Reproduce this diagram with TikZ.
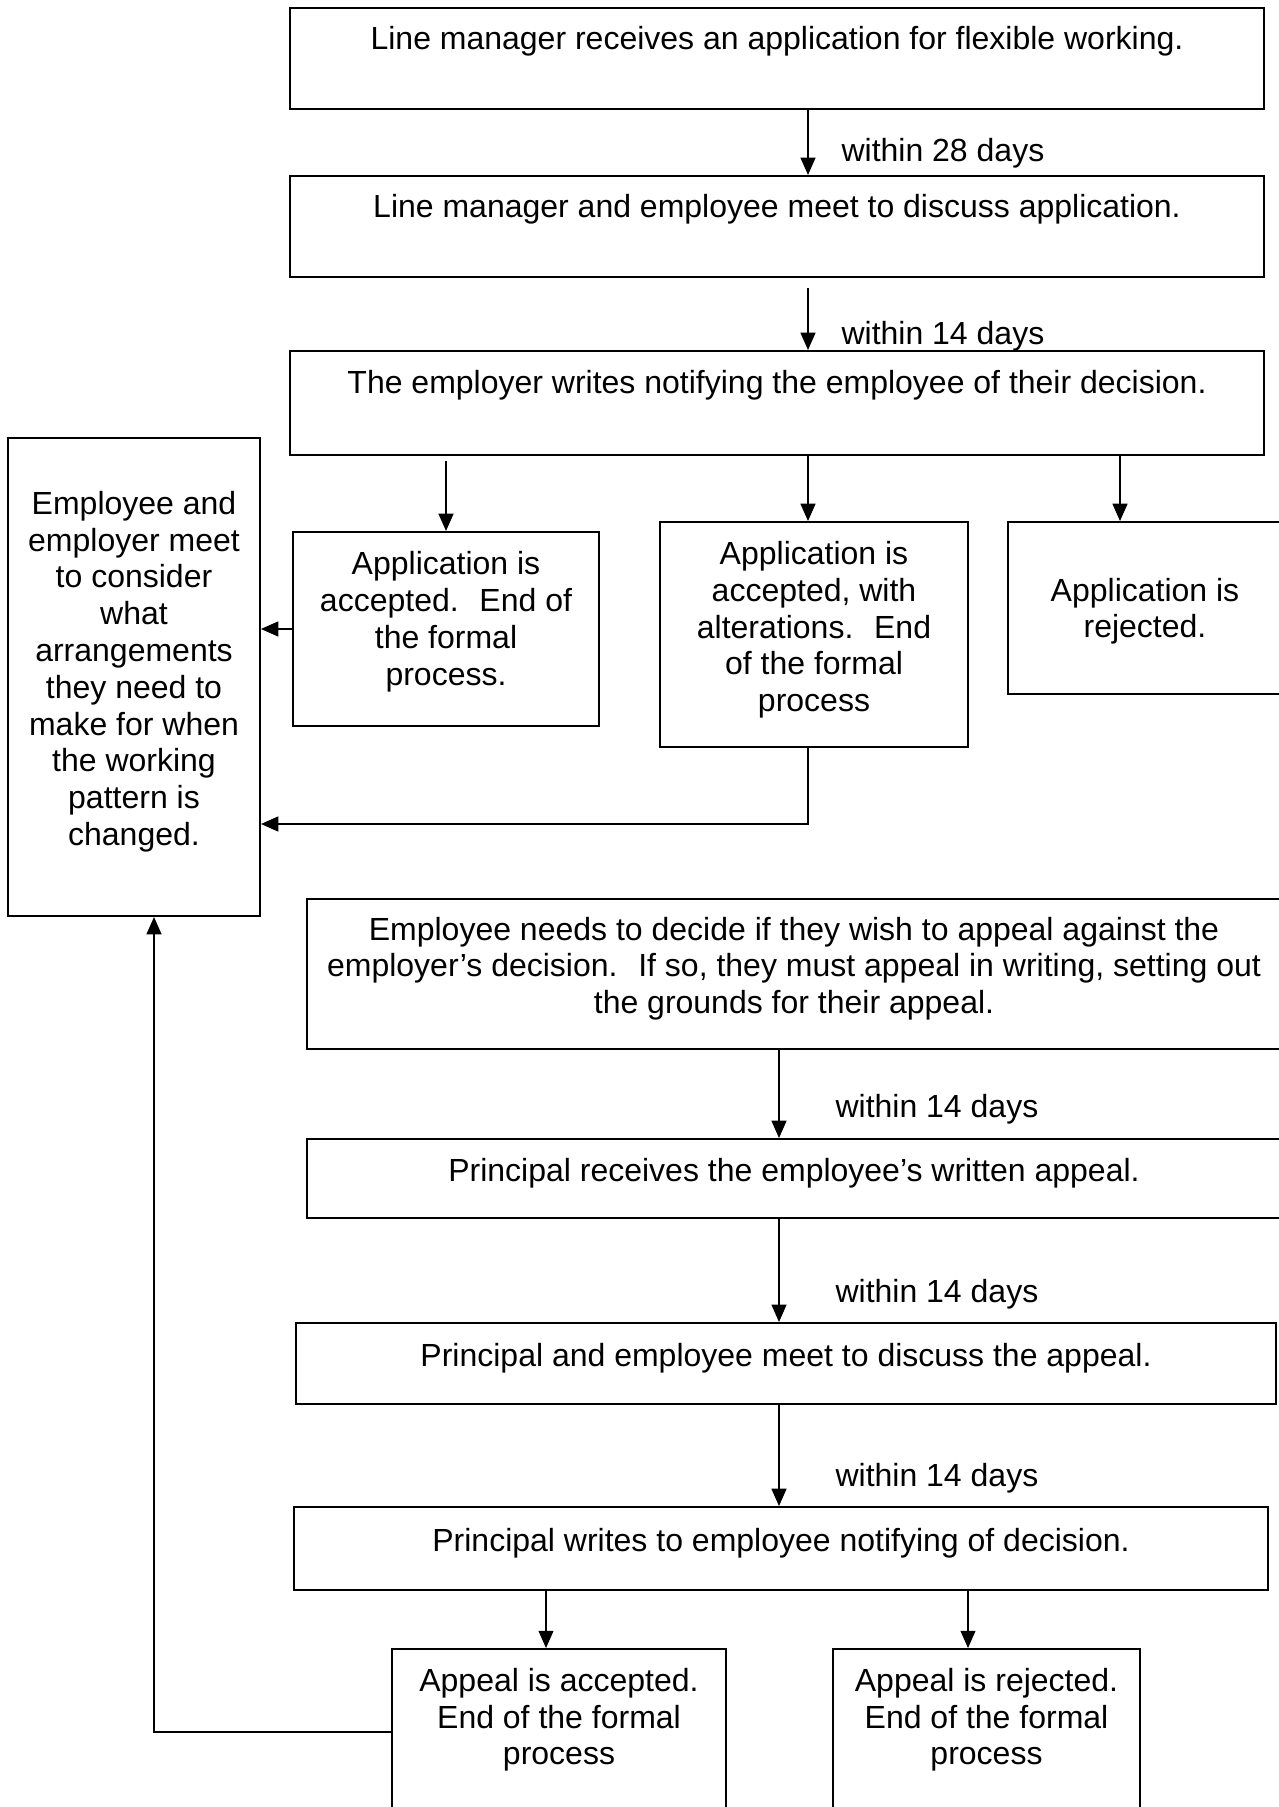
\documentclass[tikz,border=0pt]{standalone}
\usepackage{fontspec}
\setmainfont{Liberation Sans}
\usetikzlibrary{arrows.meta}

\tikzstyle{stage} = [rectangle, inner sep=0pt, align=center, draw=black, line width=0.75pt]
\tikzstyle{outcome} = [rectangle, inner sep=0pt, align=center, draw=black, line width=0.7pt]
\tikzstyle{link} = [-{Triangle[length=6.5pt,width=5.6pt]}, line width=0.55pt]
\tikzstyle{gap} = [anchor=west, inner sep=0pt]

\begin{document}
\begin{tikzpicture}[x=0.375pt,y=-0.375pt,font=\fontsize{12pt}{13.8pt}\selectfont]
\useasboundingbox (0,0) rectangle (1278,1807);

%Application stages
\node (receive) [stage, minimum width=365.3pt, minimum height=37.9pt, text depth=15.5pt] at (777,58.5) {Line manager receives an application for flexible working.};
\node (meet) [stage, minimum width=365.3pt, minimum height=37.9pt, text depth=15.5pt] at (777,226.5) {Line manager and employee meet to discuss application.};
\node (notify) [stage, minimum width=365.3pt, minimum height=39pt, text depth=15.5pt] at (777,403) {The employer writes notifying the employee of their decision.};

%Arrangements
\node (arrange) [outcome, minimum width=94.5pt, minimum height=179.3pt, text depth=6.5pt] at (134,677) {Employee and\\employer meet\\to consider\\what\\arrangements\\they need to\\make for when\\the working\\pattern is\\changed.};

%Decisions
\node (accept) [outcome, minimum width=114.8pt, minimum height=72.8pt, text depth=8pt] at (446,629) {Application is\\accepted.~ End of\\the formal\\process.};
\node (alter) [outcome, minimum width=115.5pt, minimum height=84.4pt, text depth=6pt] at (814,634.5) {Application is\\accepted, with\\alterations.~ End\\of the formal\\process};
\node (reject) [outcome, minimum width=102.75pt, minimum height=64.5pt, text depth=0pt] at (1145,608) {Application is\\rejected.};

%Appeal stages
\node (decide) [stage, minimum width=365.25pt, minimum height=56.25pt, text depth=6.5pt] at (794,974) {Employee needs to decide if they wish to appeal against the\\employer’s decision.~ If so, they must appeal in writing, setting out\\the grounds for their appeal.};
\node (receipt) [stage, minimum width=365.25pt, minimum height=29.6pt, text depth=6.5pt] at (794,1178.5) {Principal receives the employee’s written appeal.};
\node (hearing) [stage, minimum width=367.5pt, minimum height=30.4pt, text depth=6.5pt] at (786,1363.5) {Principal and employee meet to discuss the appeal.};
\node (verdict) [stage, minimum width=365.25pt, minimum height=31.1pt, text depth=6.5pt] at (781,1548.5) {Principal writes to employee notifying of decision.};

%Appeal outcomes
\node (upheld) [outcome, minimum width=125.25pt, minimum height=62.25pt, text depth=11.7pt] at (559,1732) {Appeal is accepted.\\End of the formal\\process};
\node (denied) [outcome, minimum width=115.1pt, minimum height=62.25pt, text depth=11.7pt] at (986.5,1732) {Appeal is rejected.\\End of the formal\\process};

%Timings
\node (days28) [gap] at (841,153) {within 28 days};
\node (days14a) [gap] at (841,336) {within 14 days};
\node (days14b) [gap] at (835,1109) {within 14 days};
\node (days14c) [gap] at (835,1294) {within 14 days};
\node (days14d) [gap] at (835,1478) {within 14 days};

%Arrow columns
\coordinate (colA) at (808,0);
\coordinate (colC) at (1120,0);
\coordinate (colD) at (779,0);
\coordinate (colH) at (546,0);
\coordinate (colI) at (968,0);
\coordinate (colL) at (154,0);
\coordinate (gap2) at (808,288);
\coordinate (gapA) at (446,461);
\coordinate (bend) at (808,824);

%Arrows
\draw [link] (receive.south -| colA) -- (meet.north -| colA);
\draw [link] (gap2) -- (notify.north -| gap2);
\draw [link] (gapA) -- (accept.north);
\draw [link] (notify.south -| colA) -- (alter.north -| colA);
\draw [link] (notify.south -| colC) -- (reject.north -| colC);
\draw [link] (accept.west) -- (accept.west -| arrange.east);
\draw [link] (alter.south -| bend) -- (bend) -- (bend -| arrange.east);
\draw [link] (decide.south -| colD) -- (receipt.north -| colD);
\draw [link] (receipt.south -| colD) -- (hearing.north -| colD);
\draw [link] (hearing.south -| colD) -- (verdict.north -| colD);
\draw [link] (verdict.south -| colH) -- (upheld.north -| colH);
\draw [link] (verdict.south -| colI) -- (denied.north -| colI);
\draw [link] (upheld.west) -| (colL |- arrange.south);

\end{tikzpicture}
\end{document}
